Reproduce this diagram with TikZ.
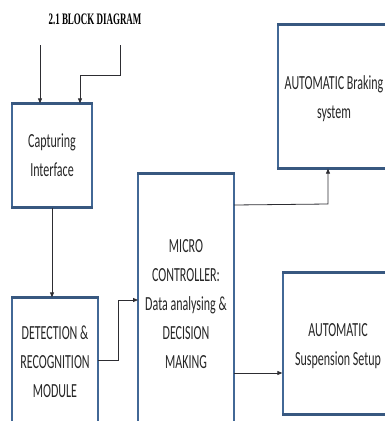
\documentclass[tikz,border=0pt]{standalone}
\usepackage{fontspec}
\usetikzlibrary{arrows.meta}
\newfontfamily\boxfont{Carlito}[FakeStretch=0.6]
\newfontfamily\titlefont{Liberation Serif}[FakeStretch=0.56]
\definecolor{boxblue}{RGB}{66,104,150}
\definecolor{linegray}{RGB}{45,45,50}
\tikzset{
  blk/.style={draw=boxblue, line width=1.3pt, inner sep=0pt},
  edge/.style={draw=boxblue!85!black, line width=2.8pt},
  txt/.style={align=center, font=\boxfont\fontsize{20}{29}\selectfont, text=black!85},
  conn/.style={draw=linegray, line width=0.8pt},
  arr/.style={conn, -{Triangle[length=5pt,width=4pt]}}
}
\begin{document}
\begin{tikzpicture}[x=1pt,y=-1pt]
\useasboundingbox (0,0) rectangle (385,421);
\clip (0,0) rectangle (385,421);
% title
\node[font=\titlefont\bfseries\fontsize{16}{18}\selectfont] (title) at (95,19) {2.1 BLOCK DIAGRAM};
% boxes
\node[blk, minimum width=80pt, minimum height=103pt] (cap) at (52,155.5) {};
\node[blk, minimum width=86pt, minimum height=142pt] (det) at (55,369) {};
\node[blk, minimum width=96pt, minimum height=266pt] (mic) at (186,307) {};
\node[blk, minimum width=122pt, minimum height=143pt] (brk) at (339,96.5) {};
\node[blk, minimum width=117pt, minimum height=141pt] (sus) at (341.5,343.5) {};
% thick top/bottom edges
\foreach \b in {cap,det,mic,brk,sus}{
  \draw[edge] (\b.north west) -- (\b.north east);
  \draw[edge] (\b.south west) -- (\b.south east);
}
% texts
\node[txt] (tcap) at (52,155) {Capturing\\Interface};
\node[txt] (tdet) at (55,362) {DETECTION \&\\RECOGNITION\\MODULE};
\node[txt] (tmic) at (186,304) {MICRO\\CONTROLLER:\\Data analysing \&\\DECISION\\MAKING};
\node[txt] (tbrk) at (334,99) {AUTOMATIC Braking\\system};
\node[txt] (tsus) at (338,346) {AUTOMATIC\\Suspension Setup};
% connectors
\coordinate (in1) at (40,45);
\coordinate (in2) at (120,45);
\coordinate (k2) at (80,75);
\draw[arr] (in1) -- (in1 |- cap.north);
\draw[arr] (in2) |- (k2) -- (k2 |- cap.north);
\draw[arr] (cap.south) -- (cap.south |- det.north);
\coordinate (d1) at (98,360);
\coordinate (m1) at (138,300);
\draw[arr] (d1) -- (118,360) |- (m1);
\coordinate (m2) at (234,205);
\coordinate (b1) at (328,204);
\draw[arr] (m2) -- (b1) -- (b1 |- brk.south);
\coordinate (m3) at (234,373);
\draw[arr] (m3) -- (m3 -| sus.west);
\end{tikzpicture}
\end{document}
